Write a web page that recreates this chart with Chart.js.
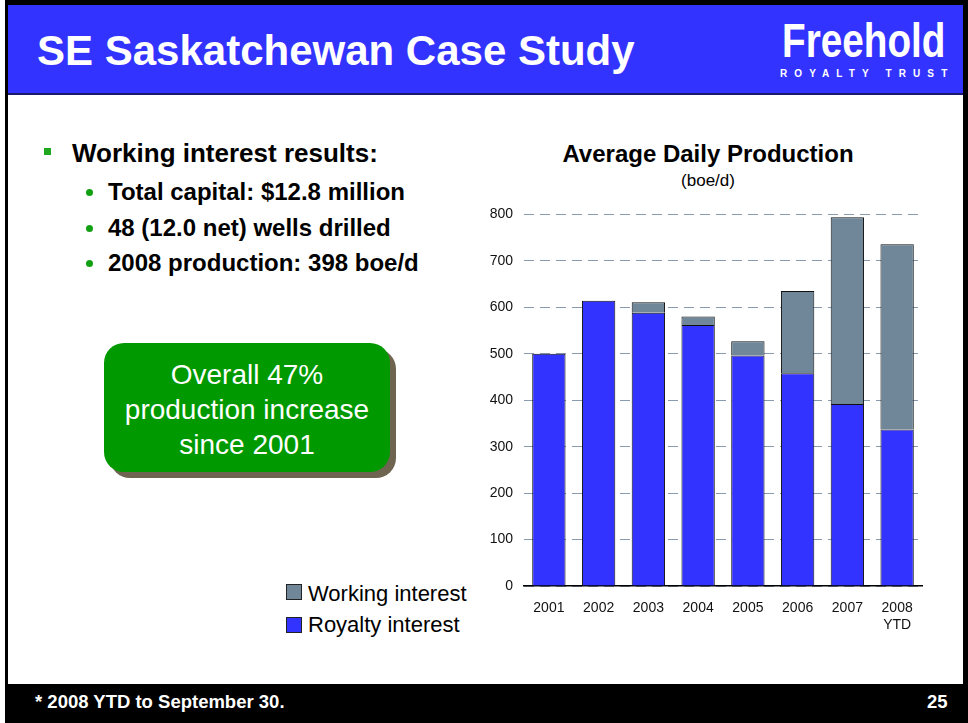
<!DOCTYPE html>
<html>
<head>
<meta charset="utf-8">
<script src="https://cdn.jsdelivr.net/npm/chart.js@4/dist/chart.umd.min.js"></script>
<style>
    body { margin: 0; width: 968px; height: 723px; background: #fff; font-family: "Liberation Sans", Arial, sans-serif; overflow: hidden; position: relative; }
    .abs { position: absolute; white-space: nowrap; line-height: 1; }
    #frame { left: 5px; top: 0; width: 963px; height: 723px; background: #000; }
    #slide { left: 8px; top: 5px; width: 955px; height: 679px; background: #fff; }
    #header { left: 8px; top: 5px; width: 955px; height: 88px; background: #3333ff; border-bottom: 2px solid #1a1a70; }
    #title { left: 37px; top: 30px; font-size: 42px; font-weight: bold; color: #fff; }
    #logo { left: 782px; top: 16px; font-size: 49px; font-weight: bold; color: #fff; transform: scaleX(0.79); transform-origin: left top; }
    #logo-sub { left: 780px; top: 69px; font-size: 10px; font-weight: bold; color: #fff; letter-spacing: 7.1px; }
    .bullet-sq { width: 7px; height: 7px; background: #1fa81f; }
    .dot { width: 7px; height: 7px; border-radius: 50%; background: #11a011; }
    .b1 { font-size: 26px; font-weight: bold; color: #000; }
    .b2 { font-size: 24px; font-weight: bold; color: #000; }
    #callout { left: 104px; top: 343px; width: 286px; height: 129px; background: #009900; border-radius: 20px; box-shadow: 6px 6px 0 #6e6450; }
    #callout-text { left: 104px; top: 357px; width: 286px; text-align: center; font-size: 28px; line-height: 35px; color: #fff; white-space: normal; }
    #chart-title { left: 558px; top: 142px; width: 300px; text-align: center; font-size: 24px; font-weight: bold; color: #000; }
    #chart-sub { left: 558px; top: 172px; width: 300px; text-align: center; font-size: 17px; color: #000; }
    #chart-box { left: 470px; top: 195px; width: 470px; height: 445px; }
    .leg-sq { width: 16px; height: 16px; border: 1px solid #222; box-sizing: border-box; }
    .leg-txt { font-size: 22px; color: #000; }
    #footer { left: 5px; top: 684px; width: 963px; height: 39px; background: #000; }
    .foot { font-size: 18.5px; font-weight: bold; color: #fff; }
</style>
</head>
<body>
<div class="abs" id="frame"></div>
<div class="abs" id="slide"></div>
<div class="abs" id="header"></div>
<div class="abs" id="title">SE Saskatchewan Case Study</div>
<div class="abs" id="logo">Freehold</div>
<div class="abs" id="logo-sub">ROYALTY TRUST</div>

<div class="abs bullet-sq" style="left:44px; top:148px;"></div>
<div class="abs b1" style="left:72px; top:140px;">Working interest results:</div>
<div class="abs dot" style="left:86px; top:189px;"></div>
<div class="abs b2" style="left:108px; top:180px;">Total capital: $12.8 million</div>
<div class="abs dot" style="left:86px; top:225px;"></div>
<div class="abs b2" style="left:108px; top:216px;">48 (12.0 net) wells drilled</div>
<div class="abs dot" style="left:86px; top:260px;"></div>
<div class="abs b2" style="left:108px; top:251px;">2008 production: 398 boe/d</div>

<div class="abs" id="callout"></div>
<div class="abs" id="callout-text">Overall 47%<br>production increase<br>since 2001</div>

<div class="abs" id="chart-title">Average Daily Production</div>
<div class="abs" id="chart-sub">(boe/d)</div>
<div class="abs" id="chart-box"><canvas id="prodChart"></canvas></div>

<div class="abs leg-sq" id="leg-work" style="left:286px; top:584px;"></div>
<div class="abs leg-txt" style="left:308px; top:583px;">Working interest</div>
<div class="abs leg-sq" id="leg-roy" style="left:286px; top:617px;"></div>
<div class="abs leg-txt" style="left:308px; top:614px;">Royalty interest</div>

<div class="abs" id="footer"></div>
<div class="abs foot" style="left:35px; top:693px;">* 2008 YTD to September 30.</div>
<div class="abs foot" style="left:927px; top:693px;">25</div>

<script>
// data (boe/d)
const years = ['2001', '2002', '2003', '2004', '2005', '2006', '2007', ['2008', 'YTD']];
const royaltyInterest = [500, 614, 588, 562, 496, 458, 392, 337];
const workingInterest = [0, 0, 23, 18, 31, 177, 402, 399];
const yTicks = [0, 100, 200, 300, 400, 500, 600, 700, 800];

const royaltyColor = '#3333ff';
const workingColor = '#6f8799';

document.getElementById('leg-work').style.background = workingColor;
document.getElementById('leg-roy').style.background = royaltyColor;

const ctx = document.getElementById('prodChart');

const chart = new Chart(ctx, {
    type: 'bar',
    data: {
        labels: years,
        datasets: [
            {
                label: 'Royalty interest',
                data: royaltyInterest,
                backgroundColor: royaltyColor,
                borderColor: '#111',
                borderWidth: 1
            },
            {
                label: 'Working interest',
                data: workingInterest,
                backgroundColor: workingColor,
                borderColor: '#111',
                borderWidth: 1
            }
        ]
    },
    options: {
        responsive: true,
        maintainAspectRatio: false,
        animation: false,
        datasets: {
            bar: { categoryPercentage: 1, barPercentage: 0.67 }
        },
        layout: { padding: { top: 17, right: 18, left: 0, bottom: 0 } },
        plugins: {
            legend: { display: false },
            tooltip: { enabled: false }
        },
        scales: {
            x: {
                stacked: true,
                grid: { display: false, drawTicks: false },
                border: { display: true, color: '#000', width: 1.5 },
                ticks: {
                    color: '#111',
                    padding: 14,
                    font: { family: 'Liberation Sans', size: 14 }
                },
                afterFit: function(scale) { scale.height = 54; }
            },
            y: {
                stacked: true,
                min: 0,
                max: 800,
                afterBuildTicks: function(scale) {
                    scale.ticks = yTicks.map(v => ({ value: v }));
                },
                grid: { color: '#8a9bb0', lineWidth: 1, drawTicks: false },
                border: { display: false, dash: [10, 6] },
                ticks: {
                    color: '#111',
                    padding: 11,
                    font: { family: 'Liberation Sans', size: 14 }
                },
                afterFit: function(scale) { scale.width = 54; }
            }
        }
    }
});
</script>
</body>
</html>
